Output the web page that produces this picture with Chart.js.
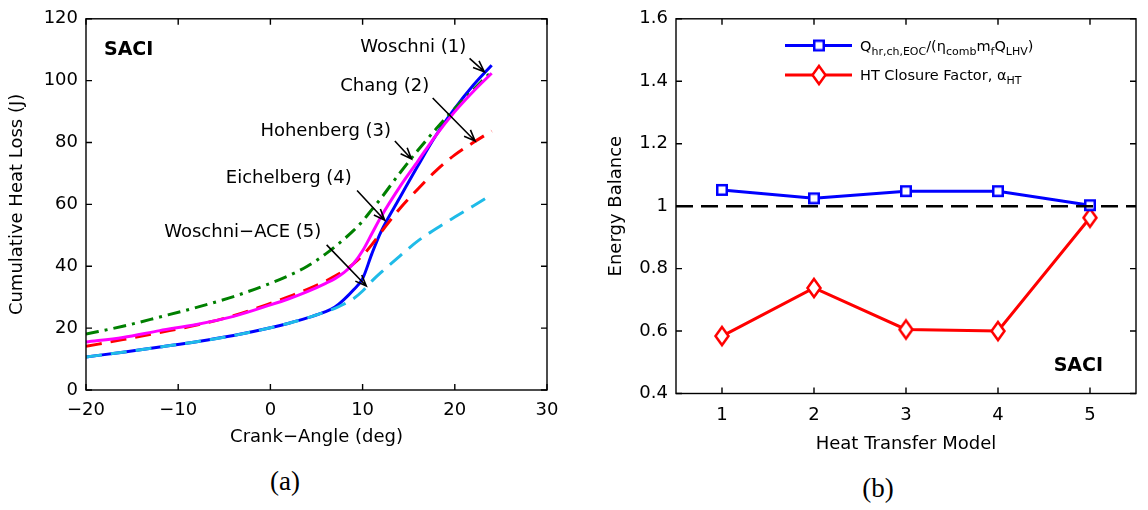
<!DOCTYPE html>
<html>
<head>
<meta charset="utf-8">
<script src="https://cdn.jsdelivr.net/npm/chart.js@4.4.1/dist/chart.umd.min.js"></script>
<style>
  html, body { margin: 0; padding: 0; background: #fff; }
  body { width: 1148px; height: 510px; position: relative; overflow: hidden; }
  .panel { position: absolute; top: 0; width: 574px; height: 460px; }
  .cap { position: absolute; font-family: "Liberation Serif", serif; font-size: 27px; color: #000; transform: translateX(-50%); }
</style>
</head>
<body>
<div class="panel" style="left:0"><canvas id="heatLossChart" width="574" height="460"></canvas></div>
<div class="panel" style="left:574px"><canvas id="energyBalanceChart" width="574" height="460"></canvas></div>
<div class="cap" style="left:285px; top:466px">(a)</div>
<div class="cap" style="left:878px; top:473px">(b)</div>
<script>
// ---- data: panel (a) cumulative heat loss ----
const crankAngle = [-20, -16, -12, -8, -4, 0, 2, 4, 6, 7, 8, 9, 10, 11, 12, 14, 16, 18, 20, 22, 24];
const woschni    = [10.7, 12.2, 13.9, 15.6, 17.6, 20.1, 21.6, 23.3, 25.3, 26.8, 29.3, 32.3, 36.0, 44.0, 51.2, 62.0, 72.5, 82.5, 91.0, 98.5, 105.0];
const chang      = [14.1, 16.3, 18.6, 21.0, 24.0, 28.0, 30.2, 32.5, 35.2, 36.8, 38.6, 40.8, 43.5, 47.0, 51.0, 58.5, 65.0, 71.0, 76.0, 80.0, 83.7];
const hohenberg  = [18.1, 20.6, 23.6, 26.7, 30.2, 34.5, 37.0, 40.0, 44.0, 46.3, 48.8, 51.5, 54.6, 58.3, 62.0, 70.0, 77.5, 84.5, 91.0, 97.0, 103.0];
const eichelberg = [15.5, 17.0, 19.2, 21.2, 23.8, 27.5, 29.5, 31.8, 34.5, 36.0, 38.0, 40.8, 45.0, 50.5, 56.0, 65.5, 74.0, 82.5, 90.0, 96.5, 102.4];
const woschniAce = [10.7, 12.2, 13.9, 15.6, 17.6, 20.1, 21.6, 23.3, 25.3, 26.4, 27.8, 29.5, 32.0, 35.2, 38.0, 43.2, 48.2, 52.2, 55.9, 59.5, 63.1];
const modelNames = ['Woschni (1)', 'Chang (2)', 'Hohenberg (3)', 'Eichelberg (4)', 'Woschni\u2212ACE (5)'];
const heatTicksX = [-20, -10, 0, 10, 20, 30];
const heatTicksY = [0, 20, 40, 60, 80, 100, 120];

// ---- data: panel (b) energy balance ----
const modelIds      = [1, 2, 3, 4, 5];
const heatRelease   = [1.052, 1.025, 1.048, 1.048, 1.003];
const closureFactor = [0.584, 0.738, 0.605, 0.600, 0.963];
const unityX = [0.5, 5.5];
const unityY = [1, 1];
const balanceTicksY = [0.4, 0.6, 0.8, 1.0, 1.2, 1.4, 1.6];

Chart.defaults.font.family = '"DejaVu Sans", sans-serif';
Chart.defaults.font.size = 18;
Chart.defaults.color = '#000';

const toPoints = (xs, ys) => xs.map((x, i) => ({ x, y: ys[i] }));
const minusLabel = v => (v < 0 ? '\u2212' + Math.abs(v) : String(v));

// MATLAB style box with inward ticks on all four sides
const boxTicks = {
    id: 'boxTicks',
    afterDatasetsDraw(chart) {
        const { ctx, chartArea: a, scales } = chart;
        const len = 6;
        ctx.save();
        ctx.strokeStyle = '#000';
        ctx.lineWidth = 1.4;
        ctx.strokeRect(a.left, a.top, a.right - a.left, a.bottom - a.top);
        ctx.beginPath();
        scales.x.ticks.forEach(t => {
            const px = scales.x.getPixelForValue(t.value);
            ctx.moveTo(px, a.bottom); ctx.lineTo(px, a.bottom - len);
            ctx.moveTo(px, a.top); ctx.lineTo(px, a.top + len);
        });
        scales.y.ticks.forEach(t => {
            const py = scales.y.getPixelForValue(t.value);
            ctx.moveTo(a.left, py); ctx.lineTo(a.left + len, py);
            ctx.moveTo(a.right, py); ctx.lineTo(a.right - len, py);
        });
        ctx.stroke();
        ctx.restore();
    }
};

function drawArrow(ctx, x1, y1, x2, y2) {
    const ang = Math.atan2(y2 - y1, x2 - x1);
    const h = 12, spread = 0.38;
    ctx.beginPath();
    ctx.moveTo(x1, y1);
    ctx.lineTo(x2, y2);
    ctx.moveTo(x2 - h * Math.cos(ang - spread), y2 - h * Math.sin(ang - spread));
    ctx.lineTo(x2, y2);
    ctx.lineTo(x2 - h * Math.cos(ang + spread), y2 - h * Math.sin(ang + spread));
    ctx.stroke();
}

// labels with arrows, placed in data coordinates
const heatNotes = [
    { text: modelNames[0], at: [15.5, 110.7], from: [21.6, 107.2], to: [23.2, 102.9] },
    { text: modelNames[1], at: [12.4, 98.2],  from: [17.6, 94.4],  to: [22.2, 80.5] },
    { text: modelNames[2], at: [6.0, 83.7],   from: [13.5, 80.5],  to: [15.3, 74.7] },
    { text: modelNames[3], at: [2.0, 68.3],   from: [9.4, 64.5],   to: [12.4, 54.9] },
    { text: modelNames[4], at: [-3.0, 50.9],  from: [6.1, 46.9],   to: [10.4, 33.6] }
];

const heatNotesPlugin = {
    id: 'heatNotes',
    afterDraw(chart) {
        const { ctx, scales: { x, y } } = chart;
        ctx.save();
        ctx.fillStyle = '#000';
        ctx.strokeStyle = '#000';
        ctx.lineWidth = 1.6;
        ctx.font = '18px "DejaVu Sans"';
        ctx.textAlign = 'center';
        ctx.textBaseline = 'middle';
        heatNotes.forEach(n => {
            ctx.fillText(n.text, x.getPixelForValue(n.at[0]), y.getPixelForValue(n.at[1]));
            drawArrow(ctx, x.getPixelForValue(n.from[0]), y.getPixelForValue(n.from[1]),
                x.getPixelForValue(n.to[0]), y.getPixelForValue(n.to[1]));
        });
        ctx.font = 'bold 19px "DejaVu Sans"';
        ctx.textAlign = 'left';
        ctx.textBaseline = 'alphabetic';
        ctx.fillText('SACI', x.getPixelForValue(-18.05), y.getPixelForValue(108.2));
        ctx.restore();
    }
};

function curve(label, ys, color, dash, order) {
    return {
        label, data: toPoints(crankAngle, ys),
        borderColor: color, borderWidth: 3, borderDash: dash,
        pointRadius: 0, cubicInterpolationMode: 'monotone', fill: false, order
    };
}

new Chart(document.getElementById('heatLossChart'), {
    type: 'line',
    data: {
        datasets: [
            curve(modelNames[0], woschni, '#0000ff', [], 4),
            curve(modelNames[1], chang, '#ff0000', [16, 9], 3),
            curve(modelNames[2], hohenberg, '#008000', [13, 6, 3, 6], 2),
            curve(modelNames[3], eichelberg, '#ff00ff', [], 1),
            curve(modelNames[4], woschniAce, '#1fbbe8', [16, 9], 0)
        ]
    },
    options: {
        responsive: false,
        animation: false,
        layout: { padding: { top: 15, right: 27, left: 0, bottom: 0 } },
        plugins: { legend: { display: false }, tooltip: { enabled: false } },
        scales: {
            x: {
                type: 'linear', min: -20, max: 30,
                afterBuildTicks: s => { s.ticks = heatTicksX.map(v => ({ value: v })); },
                ticks: { padding: 10, callback: v => minusLabel(v) },
                grid: { display: false, drawTicks: false },
                border: { display: false },
                title: { display: true, text: 'Crank\u2212Angle (deg)', padding: { top: 0, bottom: 12 } },
                afterFit: s => { s.height = 70; }
            },
            y: {
                type: 'linear', min: 0, max: 120,
                afterBuildTicks: s => { s.ticks = heatTicksY.map(v => ({ value: v })); },
                ticks: { padding: 8 },
                grid: { display: false, drawTicks: false },
                border: { display: false },
                title: { display: true, text: 'Cumulative Heat Loss (J)', padding: { top: 7, bottom: 0 } },
                afterFit: s => { s.width = 86; }
            }
        }
    },
    plugins: [boxTicks, heatNotesPlugin]
});

// ---- panel (b) ----
function squareMarker(color) {
    const c = document.createElement('canvas');
    c.width = 14; c.height = 14;
    const g = c.getContext('2d');
    g.fillStyle = '#fff';
    g.fillRect(2, 2, 10, 10);
    g.lineWidth = 2.5;
    g.strokeStyle = color;
    g.strokeRect(2.25, 2.25, 9.5, 9.5);
    return c;
}

function diamondMarker(color) {
    const c = document.createElement('canvas');
    c.width = 20; c.height = 24;
    const g = c.getContext('2d');
    const cx = 10, cy = 12, w = 13, h = 18;
    g.beginPath();
    g.moveTo(cx, cy - h / 2); g.lineTo(cx + w / 2, cy);
    g.lineTo(cx, cy + h / 2); g.lineTo(cx - w / 2, cy);
    g.closePath();
    g.fillStyle = '#fff';
    g.fill();
    g.lineWidth = 2.5;
    g.strokeStyle = color;
    g.stroke();
    return c;
}

const blueSquare = squareMarker('#0000ff');
const redDiamond = diamondMarker('#ff0000');

// legend rows: pieces of [text, isSubscript]
const legendRows = [
    { color: '#0000ff', marker: blueSquare, y: 45.5,
      parts: [['Q', 0], ['hr,ch,EOC', 1], ['/(\u03b7', 0], ['comb', 1], ['m', 0], ['f', 1], ['Q', 0], ['LHV', 1], [')', 0]] },
    { color: '#ff0000', marker: redDiamond, y: 75,
      parts: [['HT Closure Factor, \u03b1', 0], ['HT', 1]] }
];

const balanceExtras = {
    id: 'balanceExtras',
    afterDraw(chart) {
        const { ctx, scales: { x, y } } = chart;
        ctx.save();
        legendRows.forEach(r => {
            ctx.strokeStyle = r.color;
            ctx.lineWidth = 3;
            ctx.beginPath();
            ctx.moveTo(211, r.y); ctx.lineTo(278, r.y);
            ctx.stroke();
            ctx.drawImage(r.marker, 245 - r.marker.width / 2, r.y - r.marker.height / 2);
            let tx = 286;
            ctx.fillStyle = '#000';
            ctx.textAlign = 'left';
            ctx.textBaseline = 'alphabetic';
            r.parts.forEach(([t, sub]) => {
                ctx.font = sub ? '11px "DejaVu Sans"' : '14.5px "DejaVu Sans"';
                ctx.fillText(t, tx, r.y + (sub ? 9 : 5));
                tx += ctx.measureText(t).width;
            });
        });
        ctx.font = 'bold 19px "DejaVu Sans"';
        ctx.fillStyle = '#000';
        ctx.fillText('SACI', x.getPixelForValue(4.605), y.getPixelForValue(0.471));
        ctx.restore();
    }
};

new Chart(document.getElementById('energyBalanceChart'), {
    type: 'line',
    data: {
        datasets: [
            {
                label: 'unity', data: toPoints(unityX, unityY),
                borderColor: '#000', borderWidth: 2.5, borderDash: [17, 8],
                pointRadius: 0, fill: false, order: 0
            },
            {
                label: 'Q_hr,ch,EOC/(eta_comb m_f Q_LHV)', data: toPoints(modelIds, heatRelease),
                borderColor: '#0000ff', borderWidth: 3,
                pointStyle: blueSquare, pointRadius: 7, fill: false, order: 1
            },
            {
                label: 'HT Closure Factor', data: toPoints(modelIds, closureFactor),
                borderColor: '#ff0000', borderWidth: 3,
                pointStyle: redDiamond, pointRadius: 9, fill: false, order: 2
            }
        ]
    },
    options: {
        responsive: false,
        animation: false,
        layout: { padding: { top: 15, right: 6, left: 0, bottom: 0 } },
        plugins: { legend: { display: false }, tooltip: { enabled: false } },
        scales: {
            x: {
                type: 'linear', min: 0.5, max: 5.5,
                afterBuildTicks: s => { s.ticks = modelIds.map(v => ({ value: v })); },
                ticks: { padding: 11, callback: v => String(v) },
                grid: { display: false, drawTicks: false },
                border: { display: false },
                title: { display: true, text: 'Heat Transfer Model', padding: { top: 0, bottom: 5 } },
                afterFit: s => { s.height = 66.5; }
            },
            y: {
                type: 'linear', min: 0.4, max: 1.6,
                afterBuildTicks: s => { s.ticks = balanceTicksY.map(v => ({ value: v })); },
                ticks: { padding: 8, callback: v => String(Math.round(v * 10) / 10) },
                grid: { display: false, drawTicks: false },
                border: { display: false },
                title: { display: true, text: 'Energy Balance', padding: { top: 32, bottom: 0 } },
                afterFit: s => { s.width = 102; }
            }
        }
    },
    plugins: [boxTicks, balanceExtras]
});
</script>
</body>
</html>
